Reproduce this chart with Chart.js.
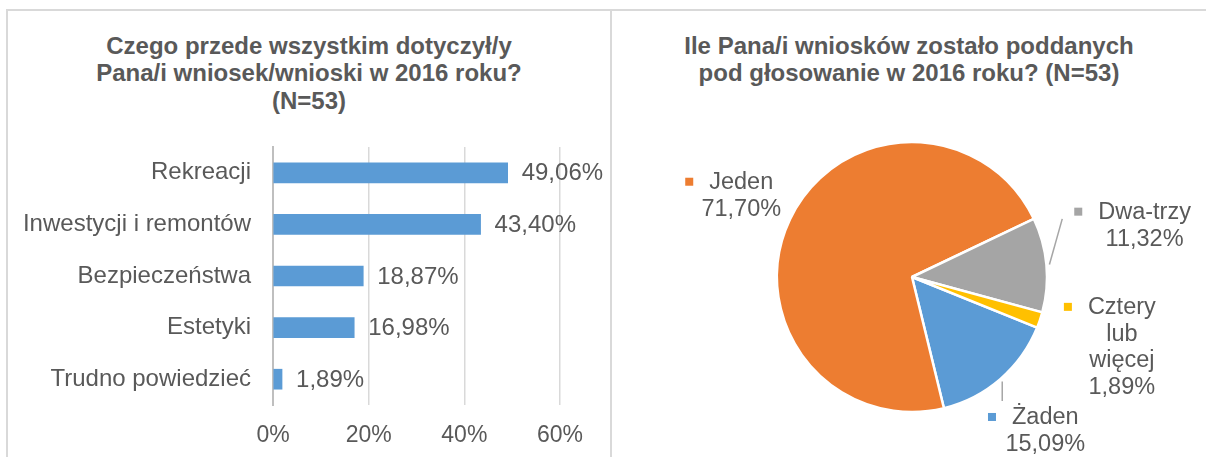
<!DOCTYPE html>
<html lang="pl">
<head>
<meta charset="utf-8">
<title>Wnioski 2016</title>
<script src="https://cdn.jsdelivr.net/npm/chart.js@4.4.1/dist/chart.umd.min.js"></script>
<style>
  html, body { margin: 0; padding: 0; background: #fff; }
  body { width: 1206px; height: 457px; overflow: hidden; position: relative; font-family: "Liberation Sans", Arial, sans-serif; }
  .frame { position: absolute; left: 6px; top: 9px; width: 1300px; height: 500px; border-top: 2px solid #d9d9d9; border-left: 2px solid #d9d9d9; }
  .divider { position: absolute; left: 610px; top: 9px; width: 2px; height: 460px; background: #d9d9d9; }
  .title { position: absolute; top: 31.5px; text-align: center; font-weight: bold; font-size: 24px; line-height: 27.5px; color: #595959; white-space: nowrap; }
  .box { position: absolute; top: 11px; height: 446px; }
</style>
</head>
<body>
<div class="frame"></div>
<div class="divider"></div>

<div class="title" style="left:8px; width:602px;">Czego przede wszystkim dotyczył/y<br>Pana/i wniosek/wnioski w 2016 roku?<br>(N=53)</div>
<div class="title" style="left:612px; width:594px;">Ile Pana/i wniosków zostało poddanych<br>pod głosowanie w 2016 roku? (N=53)</div>

<div class="box" style="left:8px; width:602px;"><canvas id="barChart"></canvas></div>
<div class="box" style="left:612px; width:594px;"><canvas id="pieChart"></canvas></div>

<script>
"use strict";

// left chart data
const barCategories = ['Rekreacji', 'Inwestycji i remontów', 'Bezpieczeństwa', 'Estetyki', 'Trudno powiedzieć'];
const barValues = [49.06, 43.40, 18.87, 16.98, 1.89];
const xTickLabels = ['0%', '20%', '40%', '60%'];

// right chart data
const pieLabels = [['Żaden'], ['Jeden'], ['Dwa-trzy'], ['Cztery', 'lub', 'więcej']];
const pieValues = [15.09, 71.70, 11.32, 1.89];
const pieColors = ['#5b9bd5', '#ed7d31', '#a5a5a5', '#ffc000'];

const textColor = '#595959';
const fontFamily = '"Liberation Sans", Arial, sans-serif';

function fmtPct(v) {
    return v.toFixed(2).replace('.', ',') + '%';
}

/* value labels at the end of the bars */
const barValueLabels = {
    id: 'barValueLabels',
    afterDatasetsDraw(chart) {
        const ctx = chart.ctx;
        const meta = chart.getDatasetMeta(0);
        ctx.save();
        ctx.font = '24px ' + fontFamily;
        ctx.fillStyle = textColor;
        ctx.textAlign = 'left';
        ctx.textBaseline = 'middle';
        meta.data.forEach(function (bar, i) {
            ctx.fillText(fmtPct(barValues[i]), bar.x + 14, bar.y + 1);
        });
        ctx.restore();
    }
};

/* pie labels outside the slices, excel style */
const pieLabelStyle = {
    dist: [1.51, 1.40, 1.73, 1.64],
    shiftY: [0, 0, -30, 0],
    leader: [true, false, true, false],
    lineHeight: 26.5
};

const pieOutsideLabels = {
    id: 'pieOutsideLabels',
    afterDatasetsDraw(chart) {
        const ctx = chart.ctx;
        const meta = chart.getDatasetMeta(0);
        const lh = pieLabelStyle.lineHeight;
        ctx.save();
        ctx.font = '23.5px ' + fontFamily;
        ctx.textAlign = 'center';
        ctx.textBaseline = 'middle';
        meta.data.forEach(function (arc, i) {
            const mid = (arc.startAngle + arc.endAngle) / 2;
            const r = arc.outerRadius;
            const cx = arc.x + Math.cos(mid) * r * pieLabelStyle.dist[i];
            const cy = arc.y + Math.sin(mid) * r * pieLabelStyle.dist[i] + pieLabelStyle.shiftY[i];
            const lines = pieLabels[i].concat([fmtPct(pieValues[i])]);
            const n = lines.length;
            const firstY = cy - (n - 1) / 2 * lh;

            ctx.fillStyle = textColor;
            lines.forEach(function (t, j) {
                ctx.fillText(t, cx, firstY + j * lh);
            });

            // legend key square
            const w = ctx.measureText(lines[0]).width;
            const sqX = cx - w / 2 - 16 - 8;
            ctx.fillStyle = pieColors[i];
            ctx.fillRect(sqX, firstY - 5, 8, 8);

            if (pieLabelStyle.leader[i]) {
                const sx = arc.x + Math.cos(mid) * (r + 3);
                const sy = arc.y + Math.sin(mid) * (r + 3);
                const top = firstY - 13;
                let ex, ey;
                if (sy < top) {
                    ex = sx;
                    ey = top - 4;
                } else {
                    ex = sqX - 12;
                    ey = cy - 7;
                }
                ctx.strokeStyle = '#a6a6a6';
                ctx.lineWidth = 1.5;
                ctx.beginPath();
                ctx.moveTo(sx, sy);
                ctx.lineTo(ex, ey);
                ctx.stroke();
            }
        });
        ctx.restore();
    }
};

document.addEventListener('DOMContentLoaded', function () {

    /* bar chart */
    new Chart(document.getElementById('barChart'), {
        type: 'bar',
        data: {
            labels: barCategories,
            datasets: [{
                data: barValues,
                backgroundColor: '#5b9bd5',
                barThickness: 20
            }]
        },
        options: {
            indexAxis: 'y',
            responsive: true,
            maintainAspectRatio: false,
            animation: false,
            events: [],
            layout: { padding: { top: 136, right: 50, bottom: 0, left: 0 } },
            plugins: {
                legend: { display: false },
                tooltip: { enabled: false }
            },
            scales: {
                x: {
                    min: 0,
                    max: 60,
                    ticks: {
                        stepSize: 20,
                        callback: function (v, i) { return xTickLabels[i]; },
                        color: textColor,
                        font: { size: 23, family: fontFamily },
                        padding: 17,
                        maxRotation: 0
                    },
                    grid: {
                        color: function (c) { return c.index === 0 ? 'rgba(0,0,0,0)' : '#d9d9d9'; },
                        lineWidth: 1.5,
                        drawTicks: false
                    },
                    border: { display: false },
                    afterFit: function (s) { s.height = 52; }
                },
                y: {
                    ticks: {
                        color: textColor,
                        font: { size: 24, family: fontFamily },
                        padding: 22
                    },
                    grid: { display: false, drawTicks: false },
                    border: { display: true, color: '#bfbfbf', width: 2 },
                    afterFit: function (s) { s.width = 265; }
                }
            }
        },
        plugins: [barValueLabels]
    });

    /* pie chart */
    new Chart(document.getElementById('pieChart'), {
        type: 'pie',
        data: {
            labels: pieLabels.map(function (l) { return l.join(' '); }),
            datasets: [{
                data: pieValues,
                backgroundColor: pieColors,
                borderColor: '#ffffff',
                borderWidth: 2.5
            }]
        },
        options: {
            responsive: true,
            maintainAspectRatio: false,
            animation: false,
            events: [],
            rotation: 112,
            radius: 135,
            layout: { padding: { left: 6, top: 100, bottom: 14, right: 0 } },
            plugins: {
                legend: { display: false },
                tooltip: { enabled: false }
            }
        },
        plugins: [pieOutsideLabels]
    });

});
</script>
</body>
</html>
